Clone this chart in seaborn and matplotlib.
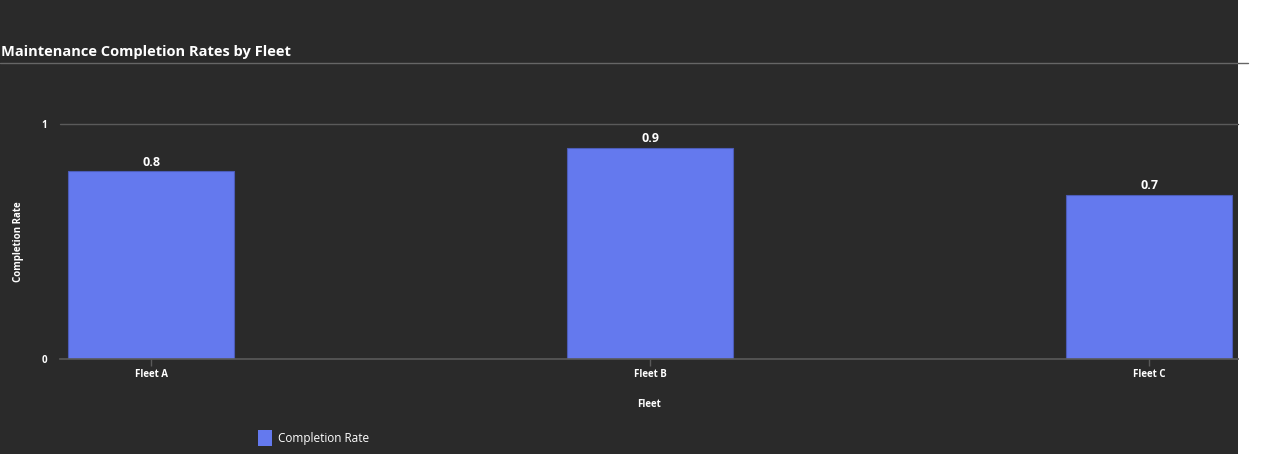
import matplotlib
matplotlib.use("Agg")
import matplotlib.pyplot as plt
import seaborn as sns
import pandas as pd
from matplotlib.patches import Rectangle
from matplotlib.lines import Line2D

fleets = ["Fleet A", "Fleet B", "Fleet C"]
completion_rate = [0.8, 0.9, 0.7]
y_ticks = [0, 1]

df = pd.DataFrame({"Fleet": fleets, "Completion Rate": completion_rate})

BG = "#2a2a2a"
BAR = "#6479ee"
GRID = "#5a5a5a"
TXT = "#ffffff"

sns.set_theme(style="dark")
plt.rcParams["font.family"] = ["Open Sans", "DejaVu Sans"]

W, H = 1280, 454
fig = plt.figure(figsize=(W / 100, H / 100), dpi=100, facecolor="white")

# dark panel, leaving the white strip on the right
bg = fig.add_axes([0, 0, 1238 / W, 1], zorder=-10)
bg.set_facecolor(BG)
bg.set_axis_off()
bg.add_patch(Rectangle((0, 0), 1, 1, transform=bg.transAxes,
                       facecolor=BG, edgecolor="none"))

ax = fig.add_axes([60 / W, 1 - 359 / H, (1238 - 60) / W, (359 - 124) / H])
ax.set_facecolor(BG)

sns.barplot(data=df, x="Fleet", y="Completion Rate", color=BAR, width=0.3327,
            saturation=1, ax=ax, edgecolor="#4c5cb8", linewidth=0.8, zorder=3)

ax.set_xlim(-0.1824, 2.178)
ax.set_ylim(0, 1)
ax.set_yticks(y_ticks)
ax.set_yticklabels([str(t) for t in y_ticks])
ax.grid(False)
ax.axhline(1, color=GRID, lw=1, zorder=1, clip_on=False)

for s in ["top", "right", "left"]:
    ax.spines[s].set_visible(False)
ax.spines["bottom"].set_color(GRID)
ax.spines["bottom"].set_linewidth(1.2)
ax.spines["bottom"].set_zorder(4)

ax.tick_params(axis="x", bottom=True, colors=TXT, length=5, width=1,
               color=GRID, labelsize=7, pad=2)
ax.tick_params(axis="y", left=False, colors=TXT, length=0, labelsize=7, pad=9)
for lab in ax.get_xticklabels() + ax.get_yticklabels():
    lab.set_fontweight("bold")

ax.set_xlabel("Fleet", color=TXT, fontsize=7, fontweight="bold", labelpad=14)
ax.set_ylabel("Completion Rate", color=TXT, fontsize=7, fontweight="bold",
              labelpad=0)
ax.yaxis.set_label_coords(-36 / (1238 - 60), 0.5)

for i, v in enumerate(completion_rate):
    ax.text(i, v + 0.01, f"{v}", ha="center", va="bottom", color=TXT,
            fontsize=9, fontweight="bold", zorder=5)

fig.text(1 / W, 1 - 52 / H, "Maintenance Completion Rates by Fleet", color=TXT,
         fontsize=10.5, fontweight="bold", ha="left", va="center")
fig.lines.append(Line2D([0, 1248 / W], [1 - 63 / H, 1 - 63 / H],
                        transform=fig.transFigure, color="#666666", lw=1))

handle = Rectangle((0, 0), 1, 1, facecolor=BAR, edgecolor="none")
leg = fig.legend([handle], ["Completion Rate"], loc="center left",
                 bbox_to_anchor=(247 / W, 1 - 438 / H), frameon=False,
                 fontsize=8.5, handlelength=1.25, handleheight=1.6,
                 handletextpad=0.5, labelcolor=TXT)

fig.savefig("out.png", dpi=100, facecolor=fig.get_facecolor())
